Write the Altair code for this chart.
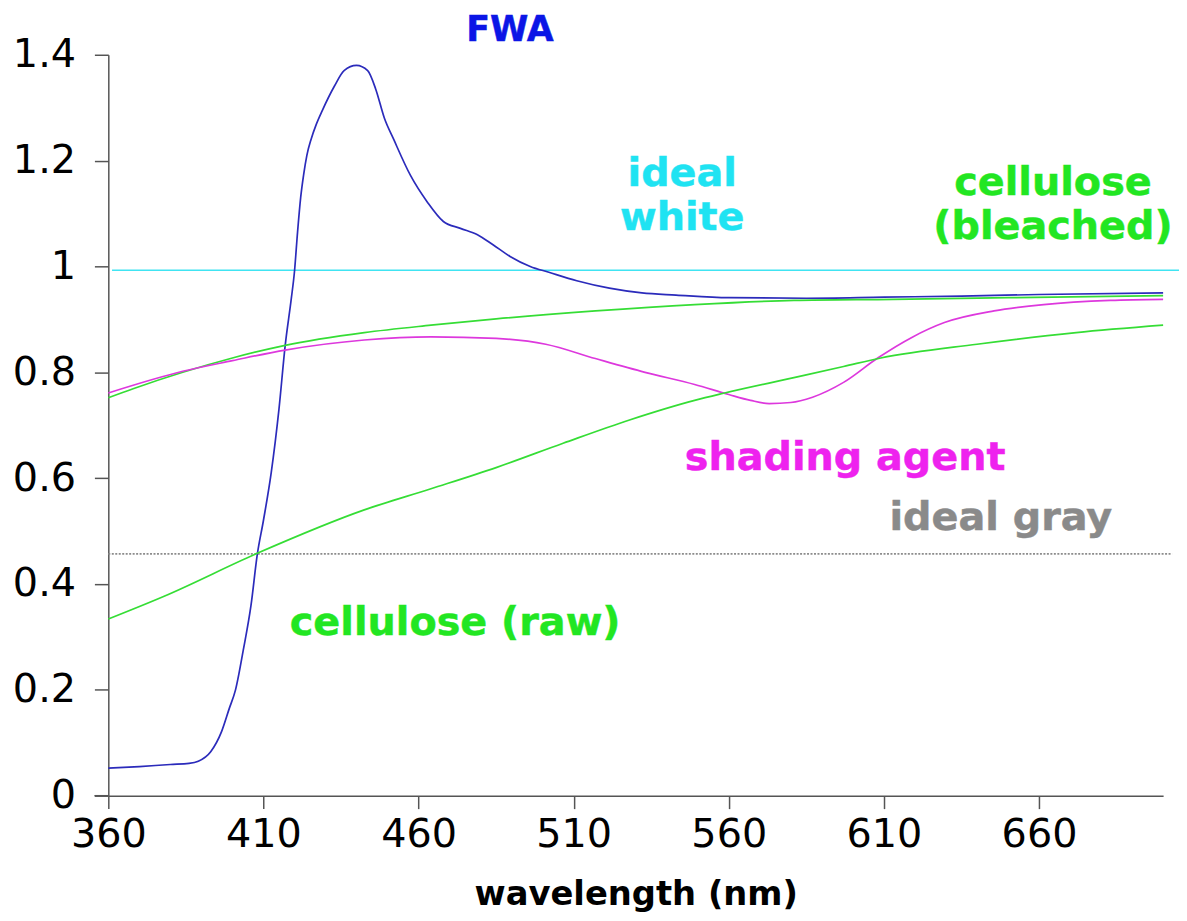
import altair as alt
import pandas as pd

# ---- data ----
fwa_nm = [360, 370, 380, 386, 389, 393, 396.5, 399, 401, 403.5, 406, 408, 410, 412.5, 415,
          417, 419, 420, 421, 422, 423, 424, 425.4, 427, 429, 432.9, 436, 440, 443.6, 446.2,
          449, 452, 457.4, 462.8, 468, 473.5, 479, 484, 489.5, 496, 502, 511, 521.5, 532,
          543, 560, 585, 610, 635, 660, 700]
fwa_val = [0.052, 0.055, 0.059, 0.061, 0.065, 0.083, 0.121, 0.165, 0.2, 0.275, 0.36, 0.455,
           0.52, 0.61, 0.73, 0.85, 0.94, 0.99, 1.065, 1.13, 1.175, 1.21, 1.241, 1.268, 1.295,
           1.341, 1.37, 1.38, 1.37, 1.335, 1.28, 1.24, 1.172, 1.122, 1.085, 1.072, 1.06,
           1.041, 1.019, 1.0, 0.989, 0.973, 0.959, 0.95, 0.946, 0.941, 0.94, 0.942, 0.944,
           0.947, 0.95]

bleached_nm = [360, 368, 384, 400, 417, 442.5, 464, 485, 517, 549, 581, 613, 650, 700]
bleached_val = [0.752, 0.769, 0.800, 0.827, 0.851, 0.875, 0.889, 0.901, 0.916, 0.928,
                0.936, 0.938, 0.941, 0.945]

shading_nm = [360, 384, 400, 417, 442.5, 464, 485, 501, 517, 533, 549, 560, 567, 573, 580,
              587, 597, 608, 619, 629.5, 645.5, 661.5, 683, 700]
shading_val = [0.761, 0.802, 0.822, 0.842, 0.861, 0.867, 0.864, 0.853, 0.826, 0.800, 0.777,
               0.758, 0.747, 0.741, 0.743, 0.753, 0.781, 0.827, 0.866, 0.894, 0.916, 0.928,
               0.936, 0.938]

raw_nm = [360, 378, 408, 442.5, 464, 485, 506.6, 528, 549, 558, 581, 597, 609, 640, 672, 700]
raw_val = [0.334, 0.377, 0.458, 0.540, 0.580, 0.620, 0.666, 0.710, 0.747, 0.760, 0.790,
           0.811, 0.827, 0.853, 0.875, 0.889]

ideal_white_level = 0.993
ideal_white_span = [361.2, 706.5]
ideal_gray_level = 0.457
ideal_gray_span = [360, 702.9]

series_names = ["FWA", "cellulose (bleached)", "shading agent", "cellulose (raw)"]
series_colors = ["#2b2bbb", "#35dd35", "#dd38dd", "#35dd35"]

x_ticks = [360, 410, 460, 510, 560, 610, 660]
y_ticks = [0, 0.2, 0.4, 0.6, 0.8, 1.0, 1.2, 1.4]

# annotation texts (text, wavelength, value, colour, font size)
annotations = [
    ("FWA", 489.5, 1.447, "#0b16e6", 35),
    ("ideal", 545.0, 1.174, "#1fe3f2", 40),
    ("white", 545.0, 1.092, "#1fe3f2", 40),
    ("cellulose", 664.5, 1.158, "#22e622", 40),
    ("(bleached)", 664.5, 1.075, "#22e622", 40),
    ("shading agent", 597.5, 0.638, "#ee22ee", 40),
    ("ideal gray", 647.7, 0.525, "#8a8a8a", 40),
    ("cellulose (raw)", 471.8, 0.326, "#22e622", 40),
]

# ---- build tables ----
frames = []
for name, nms, vals in zip(series_names,
                           [fwa_nm, bleached_nm, shading_nm, raw_nm],
                           [fwa_val, bleached_val, shading_val, raw_val]):
    frames.append(pd.DataFrame({"series": name, "nm": nms, "val": vals}))
lines_df = pd.concat(frames, ignore_index=True)

W, H = 1062, 746
FONT = "DejaVu Sans"

xs = alt.Scale(domain=[360, 700], nice=False, zero=False)
ys = alt.Scale(domain=[0, 1.4], nice=False, zero=True)

x_axis = alt.Axis(values=x_ticks, format="d", tickSize=13, tickWidth=1.5, tickColor="#555",
                  domainColor="#555", domainWidth=1.5, labelFont=FONT, labelFontSize=40,
                  labelColor="black", labelPadding=6, labelFlush=False, labelOverlap=False,
                  grid=False, title="wavelength (nm)", titleFont=FONT, titleFontSize=34,
                  titleFontWeight="bold", titleColor="black", titleY=110,
                  titleBaseline="alphabetic")
y_axis = alt.Axis(values=y_ticks, format=".1~f", tickSize=14, tickWidth=1.5, tickColor="#555",
                  domainColor="#555", domainWidth=1.5, labelFont=FONT, labelFontSize=40,
                  labelColor="black", labelPadding=19, labelOverlap=False, grid=False,
                  title=None)


def X(field):
    return alt.X(field, type="quantitative", scale=xs, axis=x_axis, title="wavelength (nm)")


def Y(field):
    return alt.Y(field, type="quantitative", scale=ys, axis=y_axis, title=None)


lines = alt.Chart(lines_df).mark_line(strokeWidth=1.7, interpolate="monotone").encode(
    x=X("nm"),
    y=Y("val"),
    color=alt.Color("series:N", scale=alt.Scale(domain=series_names, range=series_colors),
                    legend=None),
    detail="series:N",
)

white_df = pd.DataFrame({"nm": [ideal_white_span[0]], "nm2": [ideal_white_span[1]],
                         "val": [ideal_white_level]})
white = alt.Chart(white_df).mark_rule(color="#40e4f2", strokeWidth=1.6).encode(
    x=X("nm"), x2="nm2", y=Y("val"))

gray_df = pd.DataFrame({"nm": [ideal_gray_span[0]], "nm2": [ideal_gray_span[1]],
                        "val": [ideal_gray_level]})
gray = alt.Chart(gray_df).mark_rule(color="#8c8c8c", strokeWidth=1.6,
                                    strokeDash=[2, 1.5]).encode(
    x=X("nm"), x2="nm2", y=Y("val"))

axis_ext = alt.Chart(pd.DataFrame({"a": [0]})).mark_rule(color="#555", strokeWidth=1.5).encode(
    x=alt.value(-14), x2=alt.value(0), y=alt.value(H))

texts = []
for txt, nm, val, col, fs in annotations:
    tdf = pd.DataFrame({"label": [txt], "nm": [nm], "val": [val]})
    texts.append(
        alt.Chart(tdf).mark_text(font=FONT, fontSize=fs, fontWeight="bold", color=col,
                                 stroke=col, strokeWidth=0.5,
                                 align="center", baseline="middle").encode(
            x=X("nm"), y=Y("val"), text="label:N")
    )

chart = alt.layer(white, gray, lines, axis_ext, *texts).properties(
    width=W, height=H,
    autosize=alt.AutoSizeParams(type="none"),
    padding={"left": 101, "top": 44, "right": 16, "bottom": 115},
).configure(background="white").configure_view(stroke=None, strokeWidth=0)

chart.save("out.html", embed_options={"renderer": "svg", "actions": False})
